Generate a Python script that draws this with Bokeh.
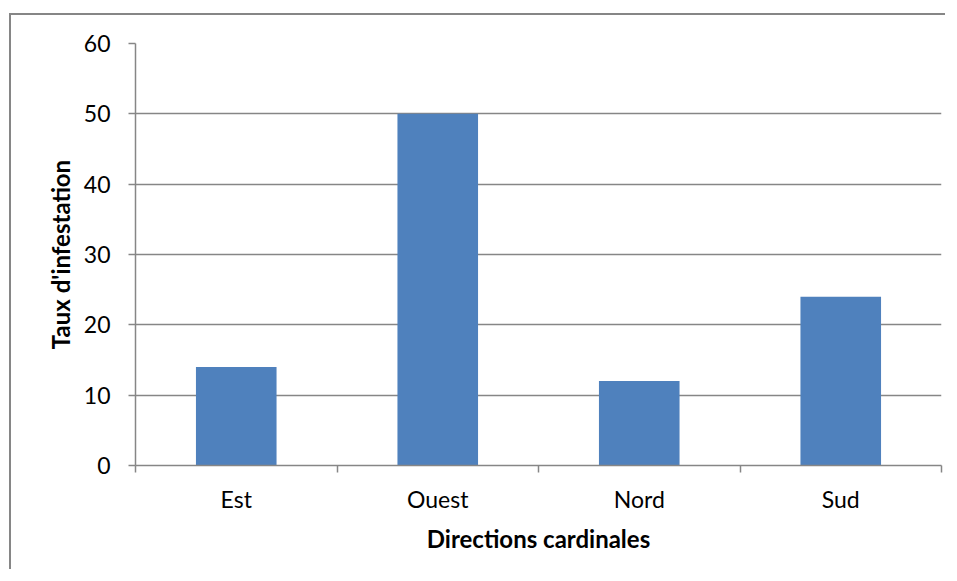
from bokeh.plotting import figure
from bokeh.models import Range1d, FixedTicker, ColumnDataSource
from bokeh.embed import file_html
from bokeh.resources import INLINE

categories = ["Est", "Ouest", "Nord", "Sud"]
values = [14, 50, 12, 24]
y_ticks = [0, 10, 20, 30, 40, 50, 60]

x_centers = [i + 0.5 for i in range(len(categories))]
x_bounds = list(range(len(categories) + 1))

GRAY = "#868686"
FONT = "Lato"

p = figure(width=936, height=556,
           x_range=Range1d(0, len(categories)), y_range=Range1d(y_ticks[0], y_ticks[-1]),
           output_backend="svg", toolbar_location=None,
           min_border_left=124, min_border_right=6, min_border_top=28, min_border_bottom=106)
p.styles = {"border-left": "2px solid " + GRAY, "border-top": "2px solid " + GRAY,
            "margin-left": "9px", "margin-top": "13px"}
p.outline_line_color = None
p.background_fill_color = "white"
p.border_fill_color = "white"

src = ColumnDataSource(dict(x=x_centers, top=values))
p.vbar(x="x", top="top", bottom=0, width=0.4, source=src, fill_color="#4F81BD", line_color=None)

# grid
p.xgrid.grid_line_color = None
p.ygrid.grid_line_color = GRAY
p.ygrid.grid_line_width = 1.5

# y axis
yax = p.yaxis[0]
yax.ticker = FixedTicker(ticks=y_ticks)
yax.axis_line_color = GRAY
yax.axis_line_width = 1.5
yax.major_tick_line_color = GRAY
yax.major_tick_line_width = 1.5
yax.major_tick_out = 7
yax.major_tick_in = 0
yax.minor_tick_line_color = None
yax.major_label_text_font = FONT
yax.major_label_text_font_size = "23px"
yax.major_label_text_color = "black"
yax.major_label_standoff = 18
yax.axis_label = "Taux d'infestation"
yax.axis_label_text_font = FONT
yax.axis_label_text_font_style = "bold"
yax.axis_label_text_font_size = "24px"
yax.axis_label_text_color = "black"
yax.axis_label_standoff = 6

# x axis
xax = p.xaxis[0]
xax.ticker = FixedTicker(ticks=x_centers, minor_ticks=x_bounds)
xax.major_label_overrides = {c: lab for c, lab in zip(x_centers, categories)}
xax.axis_line_color = GRAY
xax.axis_line_width = 1.5
xax.major_tick_line_color = None
xax.minor_tick_line_color = GRAY
xax.minor_tick_line_width = 1.5
xax.minor_tick_out = 7
xax.minor_tick_in = 0
xax.major_label_text_font = FONT
xax.major_label_text_font_size = "23px"
xax.major_label_text_color = "black"
xax.major_label_standoff = 12
xax.axis_label = "Directions cardinales"
xax.axis_label_text_font = FONT
xax.axis_label_text_font_style = "bold"
xax.axis_label_text_font_size = "24px"
xax.axis_label_text_color = "black"
xax.axis_label_standoff = 8

open("out.html", "w").write(file_html(p, INLINE))
